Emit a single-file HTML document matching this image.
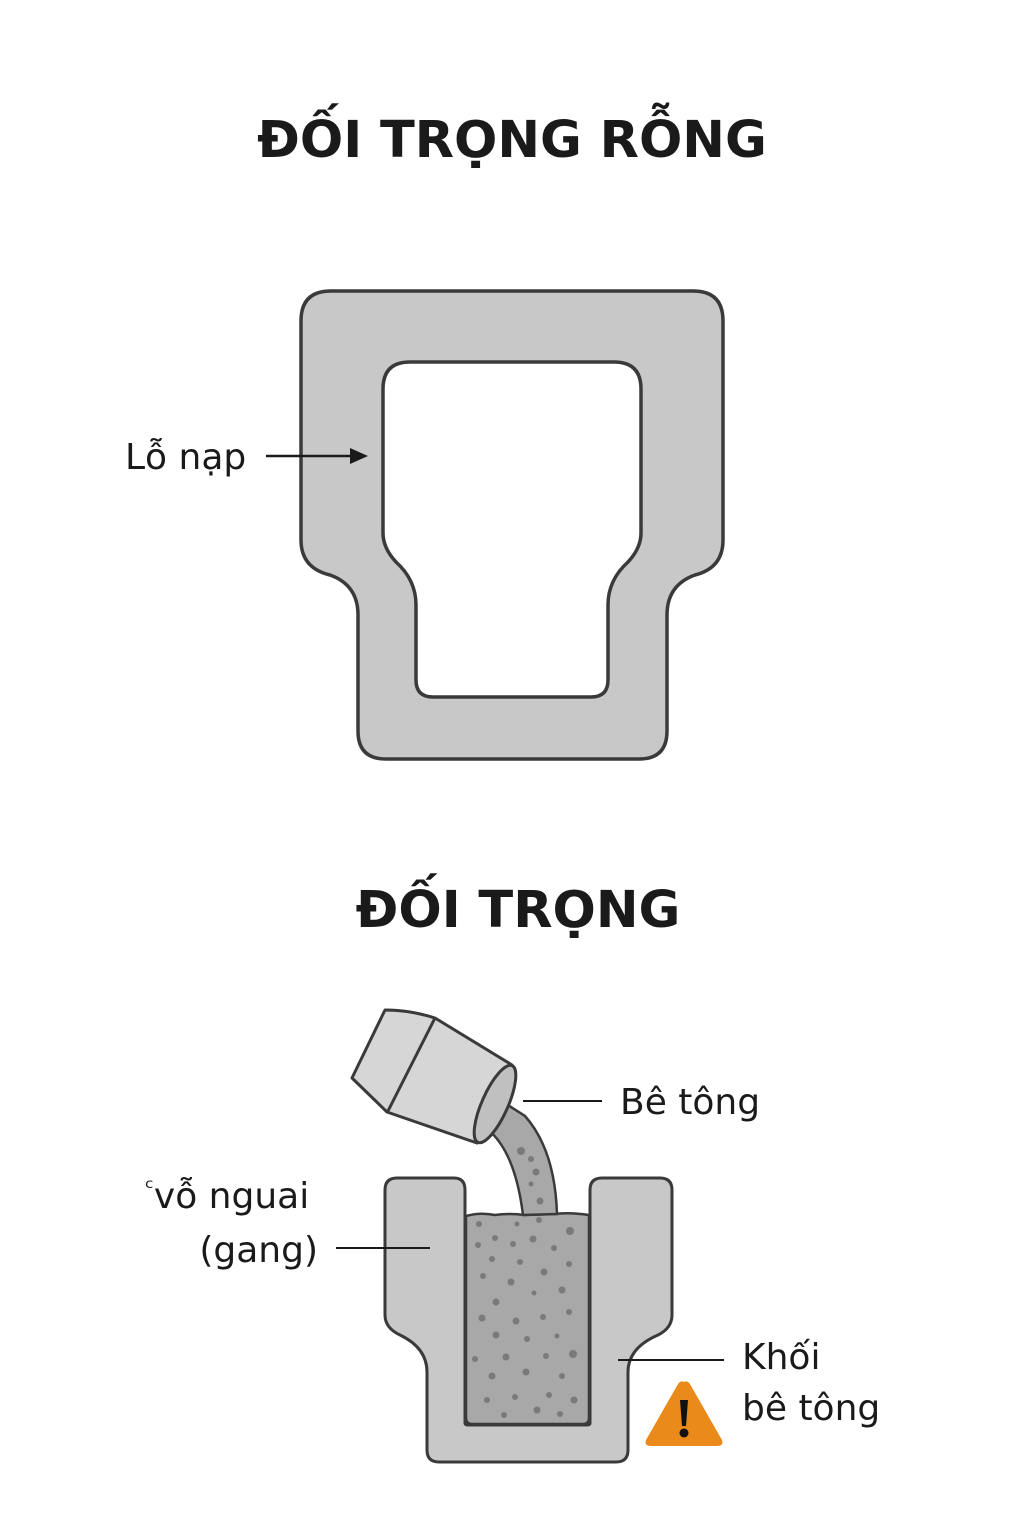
<!DOCTYPE html>
<html><head><meta charset="utf-8"><style>
html,body{margin:0;padding:0;background:#fff;}
svg{display:block;}
text{font-family:"DejaVu Sans","Liberation Sans",sans-serif;fill:#1a1a1a;}
</style></head><body>
<svg width="1024" height="1536" viewBox="0 0 1024 1536" xmlns="http://www.w3.org/2000/svg">
<text x="512" y="157" text-anchor="middle" font-size="51" font-weight="bold">ĐỐI TRỌNG RỖNG</text>
<path d="M331,291 H693 Q723,291 723,321 V540 Q723,568 695,575 Q667,585 667,615 V731 Q667,759 639,759 H386 Q358,759 358,731 V615 Q358,585 330,575 Q301,568 301,540 V321 Q301,291 331,291 Z
M410,362 H614 Q641,362 641,389 V533 Q641,548 628,562 Q608,580 608,605 V680 Q608,697 591,697 H433 Q416,697 416,680 V605 Q416,580 396,562 Q383,548 383,533 V389 Q383,362 410,362 Z" fill="#c8c8c8" fill-rule="evenodd" stroke="#3a3a3a" stroke-width="3.5"/>
<text x="125" y="469" font-size="36">Lỗ nạp</text>
<line x1="266" y1="456" x2="352" y2="456" stroke="#1a1a1a" stroke-width="2.5"/>
<polygon points="368,456 350,448 350,464" fill="#1a1a1a"/>
<text x="518" y="927" text-anchor="middle" font-size="51" font-weight="bold">ĐỐI TRỌNG</text>
<path d="M397,1178 H454 Q465,1178 465,1190 V1423 Q465,1425 468,1425 H587 Q590,1425 590,1423 V1190 Q590,1178 602,1178 H660 Q672,1178 672,1190 V1315 Q672,1328 658,1335 Q628,1348 628,1372 V1450 Q628,1462 616,1462 H439 Q427,1462 427,1450 V1372 Q427,1348 400,1335 Q385,1328 385,1315 V1190 Q385,1178 397,1178 Z" fill="#c8c8c8" stroke="#3a3a3a" stroke-width="3"/>
<path d="M466,1216 Q480,1212 495,1215 Q510,1213 525,1215 L553,1214 Q570,1212 589,1215 V1418 Q589,1424 583,1424 H472 Q466,1424 466,1418 Z" fill="#a8a8a8" stroke="#3a3a3a" stroke-width="2.5"/>
<path d="M486,1128 Q515,1150 523,1215 L557,1214 Q555,1150 525,1116 L500,1100 Z" fill="#a8a8a8" stroke="#3a3a3a" stroke-width="2.5"/>
<g fill="#7a7a7a">
<circle cx="521" cy="1151" r="4"/><circle cx="531" cy="1159" r="3"/><circle cx="536" cy="1172" r="3.5"/><circle cx="531" cy="1184" r="2.5"/><circle cx="540" cy="1201" r="3.5"/><circle cx="539" cy="1220" r="3"/>
<circle cx="479" cy="1224" r="3"/><circle cx="517" cy="1224" r="2.5"/><circle cx="570" cy="1231" r="4"/><circle cx="478" cy="1245" r="3"/><circle cx="495" cy="1238" r="3"/><circle cx="513" cy="1244" r="3"/><circle cx="533" cy="1239" r="3.5"/><circle cx="554" cy="1248" r="3"/><circle cx="492" cy="1259" r="3"/><circle cx="520" cy="1262" r="3"/><circle cx="569" cy="1264" r="3"/><circle cx="483" cy="1276" r="3"/><circle cx="511" cy="1282" r="3.5"/><circle cx="544" cy="1272" r="3.5"/><circle cx="562" cy="1290" r="3.5"/><circle cx="534" cy="1293" r="2.5"/><circle cx="496" cy="1302" r="3.5"/><circle cx="569" cy="1312" r="3"/><circle cx="482" cy="1318" r="3.5"/><circle cx="516" cy="1321" r="3.5"/><circle cx="543" cy="1317" r="3"/><circle cx="496" cy="1335" r="3.5"/><circle cx="527" cy="1339" r="3"/><circle cx="557" cy="1336" r="2.5"/><circle cx="475" cy="1359" r="3"/><circle cx="506" cy="1357" r="3.5"/><circle cx="546" cy="1356" r="3"/><circle cx="573" cy="1354" r="4"/><circle cx="492" cy="1376" r="3.5"/><circle cx="526" cy="1372" r="3.5"/><circle cx="562" cy="1376" r="3"/><circle cx="487" cy="1400" r="3"/><circle cx="515" cy="1397" r="3"/><circle cx="549" cy="1395" r="3"/><circle cx="574" cy="1400" r="3.5"/><circle cx="504" cy="1415" r="3"/><circle cx="537" cy="1410" r="3.5"/><circle cx="560" cy="1414" r="3"/>
</g>
<path d="M385,1010 Q410,1010 435,1018 L512,1065 L477,1143 L387,1112 L352,1078 Z" fill="#d6d6d6" stroke="#3a3a3a" stroke-width="3" stroke-linejoin="round"/>
<line x1="435" y1="1018" x2="388" y2="1111" stroke="#3a3a3a" stroke-width="3"/>
<ellipse cx="495" cy="1104" rx="13" ry="42" transform="rotate(24 495 1104)" fill="#c0c0c0" stroke="#3a3a3a" stroke-width="3"/>
<line x1="523" y1="1101" x2="602" y2="1101" stroke="#1a1a1a" stroke-width="2"/>
<text x="620" y="1114" font-size="36">Bê tông</text>
<text x="145" y="1208" font-size="36"><tspan font-size="24" dy="-12">ᶜ</tspan><tspan dy="12">vỗ nguai</tspan></text>
<text x="318" y="1262" font-size="36" text-anchor="end">(gang)</text>
<line x1="336" y1="1248" x2="430" y2="1248" stroke="#1a1a1a" stroke-width="2"/>
<line x1="618" y1="1360" x2="724" y2="1360" stroke="#1a1a1a" stroke-width="2"/>
<text x="742" y="1369" font-size="36">Khối</text>
<text x="742" y="1420" font-size="36">bê tông</text>
<path d="M684,1382 Q687,1380 690,1384 L722,1440 Q724,1446 717,1446 H651 Q644,1446 646,1440 L678,1384 Q681,1380 684,1382 Z" fill="#ea8a1a"/>
<path d="M680,1400 H688 L686,1426 H682 Z" fill="#111"/>
<circle cx="684" cy="1433" r="4.5" fill="#111"/>
</svg>
</body></html>
